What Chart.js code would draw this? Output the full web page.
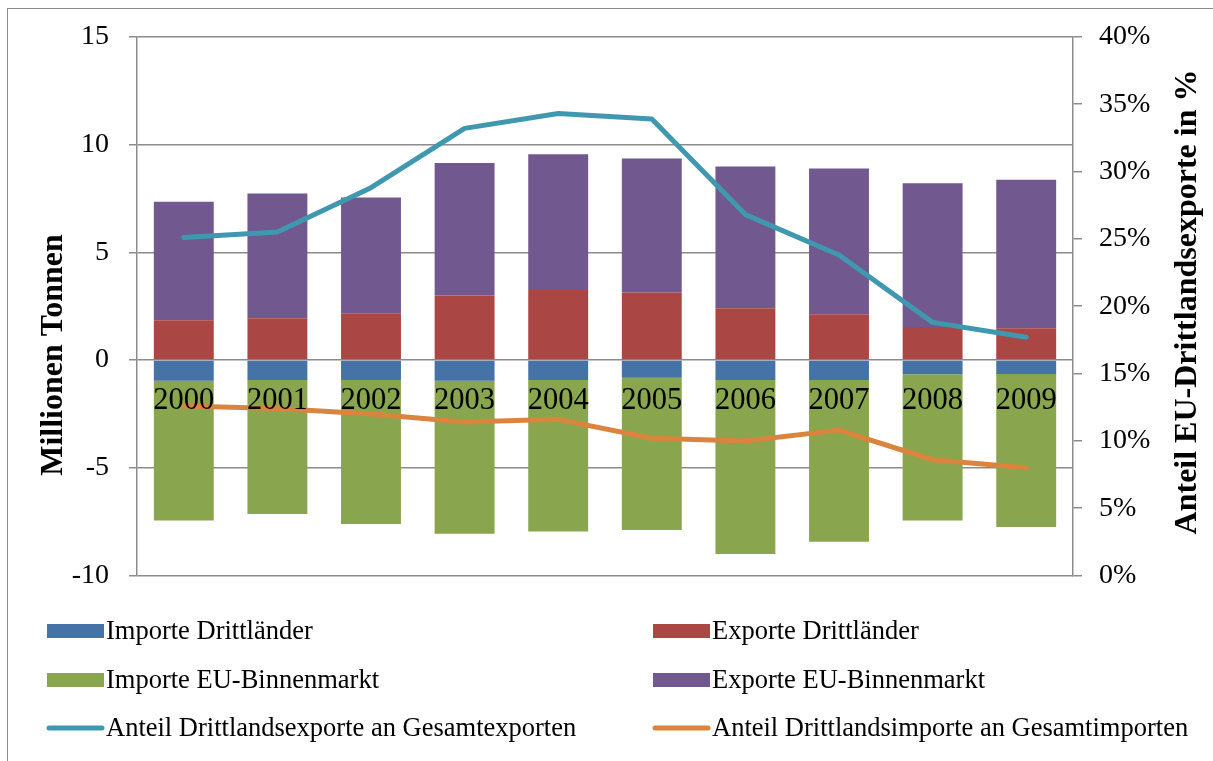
<!DOCTYPE html>
<html>
<head>
<meta charset="utf-8">
<script src="https://cdn.jsdelivr.net/npm/chart.js@4.4.1/dist/chart.umd.min.js"></script>
<style>
  html, body { margin: 0; padding: 0; background: #fff; }
  #wrap { width: 1213px; height: 761px; position: relative; }
</style>
</head>
<body>
<div id="wrap"><canvas id="c" width="1213" height="761"></canvas></div>
<script>
// ---- data ----
const categories = ['2000','2001','2002','2003','2004','2005','2006','2007','2008','2009'];
const importeDrittlaender = [-0.96,-0.92,-0.92,-0.96,-0.92,-0.82,-0.92,-0.92,-0.66,-0.65];
const exporteDrittlaender = [1.85,1.94,2.17,3.00,3.25,3.14,2.40,2.13,1.53,1.48];
const importeEU = [-6.48,-6.22,-6.69,-7.10,-7.03,-7.06,-8.08,-7.51,-6.78,-7.10];
const exporteEU = [5.50,5.79,5.37,6.15,6.30,6.21,6.58,6.76,6.68,6.89];
const anteilDrittExporte = [25.1,25.5,28.8,33.2,34.3,33.9,26.8,23.8,18.8,17.7];
const anteilDrittImporte = [12.6,12.4,12.0,11.4,11.6,10.2,10.0,10.8,8.6,8.0];
const leftTicks = [-10,-5,0,5,10,15];
const rightTickStep = 5;

const SERIF = '"Liberation Serif", "Times New Roman", serif';
const GRID = '#8c8c8c';

const overlay = {
  id: 'overlay',
  afterDatasetsDraw(chart) {
    const ctx = chart.ctx;
    const xs = chart.scales.x, ys = chart.scales.y;
    const y0 = ys.getPixelForValue(0);
    ctx.save();
    ctx.fillStyle = '#000';
    ctx.font = '30.5px ' + SERIF;
    ctx.textAlign = 'center';
    ctx.textBaseline = 'alphabetic';
    categories.forEach((c, i) => {
      ctx.fillText(c, xs.getPixelForValue(i), y0 + 49);
    });
    ctx.restore();
  },
  afterDraw(chart) {
    const ctx = chart.ctx;
    ctx.save();
    // outer frame
    ctx.strokeStyle = '#8c8c8c';
    ctx.lineWidth = 1;
    ctx.strokeRect(7.5, 8.5, 1230, 780);
    // axis titles
    ctx.fillStyle = '#000';
    ctx.font = 'bold 32px ' + SERIF;
    ctx.textAlign = 'center';
    ctx.textBaseline = 'middle';
    ctx.save();
    ctx.translate(54, 355);
    ctx.rotate(-Math.PI / 2);
    ctx.fillText('Millionen Tonnen', 0, 0);
    ctx.restore();
    ctx.save();
    ctx.translate(1188, 302);
    ctx.rotate(-Math.PI / 2);
    ctx.fillText('Anteil EU-Drittlandsexporte in %', 0, 0);
    ctx.restore();
    // legend (two columns)
    const ds = chart.data.datasets;
    const colX = [47, 653];
    const rowY = [631, 680, 728];
    ctx.font = '26.5px ' + SERIF;
    ctx.textAlign = 'left';
    ctx.textBaseline = 'middle';
    ds.forEach((d, i) => {
      const col = i % 2, row = Math.floor(i / 2);
      const x = colX[col], y = rowY[row];
      if (d.type === 'line') {
        ctx.strokeStyle = d.borderColor;
        ctx.lineWidth = 5;
        ctx.lineCap = 'round';
        ctx.beginPath();
        ctx.moveTo(x + 2, y);
        ctx.lineTo(x + 55, y);
        ctx.stroke();
      } else {
        ctx.fillStyle = d.backgroundColor;
        ctx.fillRect(x, y - 7, 57, 14);
      }
      ctx.fillStyle = '#000';
      ctx.fillText(d.label, x + 59, y + 1);
    });
    ctx.restore();
  }
};

new Chart(document.getElementById('c'), {
  data: {
    labels: categories,
    datasets: [
      { type: 'bar', label: 'Importe Drittländer', data: importeDrittlaender, backgroundColor: '#4572A7', yAxisID: 'y', order: 2 },
      { type: 'bar', label: 'Exporte Drittländer', data: exporteDrittlaender, backgroundColor: '#AA4643', yAxisID: 'y', order: 2 },
      { type: 'bar', label: 'Importe EU-Binnenmarkt', data: importeEU, backgroundColor: '#89A54E', yAxisID: 'y', order: 2 },
      { type: 'bar', label: 'Exporte EU-Binnenmarkt', data: exporteEU, backgroundColor: '#71588F', yAxisID: 'y', order: 2 },
      { type: 'line', label: 'Anteil Drittlandsexporte an Gesamtexporten', data: anteilDrittExporte, borderColor: '#3F98AF', backgroundColor: '#3F98AF', borderWidth: 5, pointRadius: 0, tension: 0, borderJoinStyle: 'round', borderCapStyle: 'round', yAxisID: 'y1', order: 1 },
      { type: 'line', label: 'Anteil Drittlandsimporte an Gesamtimporten', data: anteilDrittImporte, borderColor: '#DB843D', backgroundColor: '#DB843D', borderWidth: 5, pointRadius: 0, tension: 0, borderJoinStyle: 'round', borderCapStyle: 'round', yAxisID: 'y1', order: 1 }
    ]
  },
  options: {
    responsive: false,
    animation: false,
    events: [],
    datasets: { bar: { barPercentage: 0.64, categoryPercentage: 1.0 } },
    layout: { padding: { top: 35, bottom: 185.4, left: 0, right: 0 } },
    plugins: { legend: { display: false }, tooltip: { enabled: false } },
    scales: {
      x: { type: 'category', stacked: true, display: false, offset: true },
      y: {
        position: 'left', stacked: true, min: -10, max: 15,
        afterBuildTicks(s) { s.ticks = leftTicks.map(v => ({ value: v })); },
        afterFit(s) { s.width = 137; },
        ticks: { color: '#000', font: { family: SERIF, size: 28 }, padding: 20 },
        grid: { color: GRID, lineWidth: 1.5, tickLength: 8 },
        border: { color: GRID, width: 1.5 }
      },
      y1: {
        position: 'right', min: 0, max: 40,
        afterFit(s) { s.width = 140; },
        ticks: { stepSize: rightTickStep, color: '#000', font: { family: SERIF, size: 28 }, padding: 17, callback: v => v + '%' },
        grid: { drawOnChartArea: false, color: GRID, lineWidth: 1.5, tickLength: 9 },
        border: { color: GRID, width: 1.5 }
      }
    }
  },
  plugins: [overlay]
});
</script>
</body>
</html>
